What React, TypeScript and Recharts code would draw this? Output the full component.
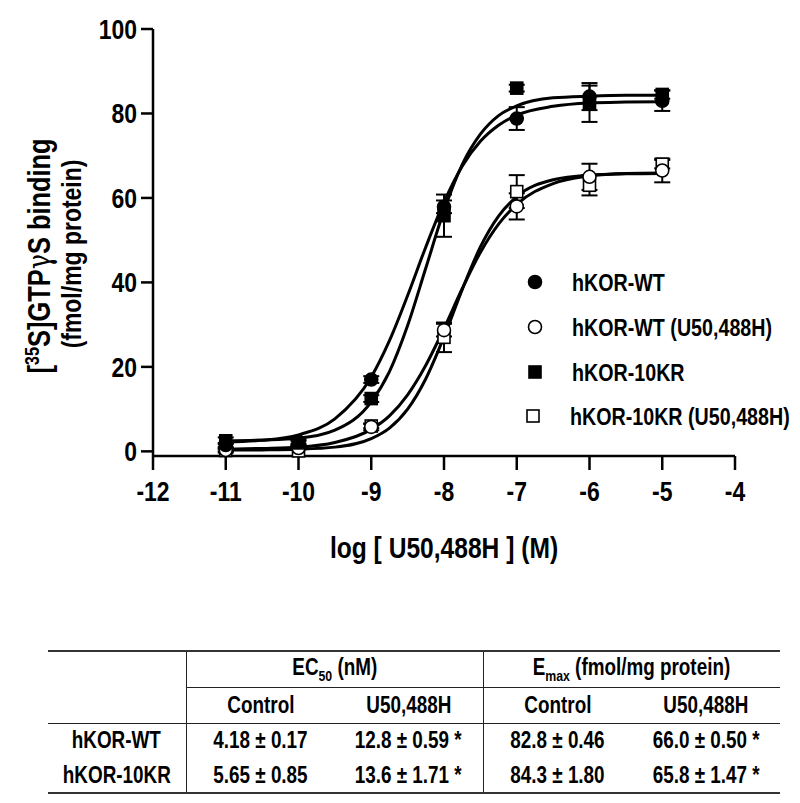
import React from "react";
import { ComposedChart, Line, Scatter, XAxis, YAxis, ErrorBar } from "recharts";

// Arial Narrow look: Liberation Sans bold squeezed horizontally
const FONT = "'Liberation Sans', Arial, sans-serif";
const NARROW = 0.82;

// log [U50,488H] (M)
const doses = [-11, -10, -9, -8, -7, -6, -5];

// mean and SEM per dose, fmol/mg protein
const wtMean = [1.5, 2.3, 17.0, 57.9, 78.8, 84.0, 83.0];
const wtSem = [0.5, 0.5, 0.8, 1.5, 2.7, 3.2, 2.4];
const wtU50Mean = [0.3, 0.8, 5.8, 28.7, 58.0, 65.0, 66.5];
const wtU50Sem = [0.3, 0.3, 0.8, 1.5, 3.1, 3.1, 2.8];
const krMean = [2.5, 2.0, 12.5, 55.8, 86.0, 82.3, 84.5];
const krSem = [0.8, 0.5, 0.8, 5.0, 0.8, 4.3, 1.0];
const krU50Mean = [0.2, 0.1, 6.0, 27.0, 61.5, 63.0, 68.0];
const krU50Sem = [0.5, 1.2, 0.5, 3.5, 3.9, 2.4, 1.0];

// fitted curves
const fitX = [-11, -10.5, -10, -9.5, -9, -8.75, -8.5, -8.25, -8, -7.75, -7.5, -7.25, -7, -6.5, -6, -5.5, -5];
const wtFit = [2.2, 2.6, 3.9, 7.7, 17.6, 26.2, 36.9, 48.4, 59.0, 67.5, 73.4, 77.2, 79.6, 81.7, 82.5, 82.7, 82.8];
const krFit = [2.5, 2.7, 3.1, 5.0, 11.7, 18.9, 29.8, 43.4, 57.0, 67.9, 75.1, 79.5, 81.8, 83.7, 84.1, 84.3, 84.3];
const wtU50Fit = [0.5, 0.7, 1.0, 2.1, 5.2, 8.4, 13.4, 20.4, 29.1, 38.5, 47.1, 53.8, 58.5, 63.4, 65.2, 65.8, 65.9];
const krU50Fit = [0.3, 0.35, 0.5, 1.0, 3.0, 5.5, 10.0, 17.2, 27.1, 38.3, 48.4, 55.7, 60.3, 64.3, 65.4, 65.7, 65.8];

const xTicks = [-12, -11, -10, -9, -8, -7, -6, -5, -4];
const yTicks = [0, 20, 40, 60, 80, 100];

const legendNames = ["hKOR-WT", "hKOR-WT (U50,488H)", "hKOR-10KR", "hKOR-10KR (U50,488H)"];

// table
const tableRows = ["hKOR-WT", "hKOR-10KR"];
const ec50Control = ["4.18 ± 0.17", "5.65 ± 0.85"];
const ec50U50 = ["12.8 ± 0.59 *", "13.6 ± 1.71 *"];
const emaxControl = ["82.8 ± 0.46", "84.3 ± 1.80"];
const emaxU50 = ["66.0 ± 0.50 *", "65.8 ± 1.47 *"];

const pts = (means: number[], sems: number[]) =>
  doses.map((x, i) => ({ x, y: means[i], err: sems[i] }));
const fit = (ys: number[]) => fitX.map((x, i) => ({ x, y: ys[i] }));

const circle = (fill: string) => (p: any) =>
  <circle cx={p.cx} cy={p.cy} r={6.5} fill={fill} stroke="#000" strokeWidth={1.6} />;
const square = (fill: string) => (p: any) =>
  <rect x={p.cx - 6} y={p.cy - 6} width={12} height={12} fill={fill} stroke="#000" strokeWidth={1.6} />;

const lineStyle = { stroke: "#000", strokeWidth: 2.5 };

// squeezed svg text
const NText = ({ x, y, rotate = 0, size, anchor = "start", dy, children }: any) => (
  <g transform={`translate(${x},${y}) rotate(${rotate}) scale(${NARROW},1)`}>
    <text textAnchor={anchor} dy={dy} fontSize={size} fontFamily={FONT} fontWeight={700} fill="#000">
      {children}
    </text>
  </g>
);

const XTick = (p: any) => (
  <NText x={p.x} y={p.y} size={28} anchor="middle" dy="0.71em">{p.payload.value}</NText>
);
const YTick = (p: any) => (
  <NText x={p.x} y={p.y} size={28} anchor="end" dy="0.355em">{p.payload.value}</NText>
);

const Narrow = ({ children }: any) => (
  <span style={{ display: "inline-block", transform: `scaleX(${NARROW})`, transformOrigin: "center", whiteSpace: "nowrap" }}>
    {children}
  </span>
);

const cell: React.CSSProperties = { padding: 0, textAlign: "center", verticalAlign: "middle", whiteSpace: "nowrap" };
const vline = "1.5px solid #222";

export default function App() {
  const series = [
    { data: pts(krU50Mean, krU50Sem), shape: square("#fff") },
    { data: pts(wtU50Mean, wtU50Sem), shape: circle("#fff") },
    { data: pts(wtMean, wtSem), shape: circle("#000") },
    { data: pts(krMean, krSem), shape: square("#000") },
  ];
  const markers = [circle("#000"), circle("#fff"), square("#000"), square("#fff")];
  const legendY = [282, 327, 372, 416];

  return (
    <div style={{ position: "relative", width: 800, height: 803, fontFamily: FONT, background: "#fff" }}>
      <style>{"body{margin:0}"}</style>
      <ComposedChart width={800} height={600} margin={{ top: 29, right: 65, bottom: 84, left: 93 }}>
        <XAxis
          type="number"
          dataKey="x"
          domain={[-12, -4]}
          ticks={xTicks}
          allowDataOverflow
          height={60}
          tickSize={14}
          tickMargin={11}
          axisLine={lineStyle}
          tickLine={lineStyle}
          tick={XTick}
        />
        <YAxis
          type="number"
          domain={[0, 100]}
          ticks={yTicks}
          width={60}
          tickSize={12}
          tickMargin={4}
          axisLine={lineStyle}
          tickLine={lineStyle}
          tick={YTick}
        />
        {[wtFit, krFit, wtU50Fit, krU50Fit].map((ys, i) => (
          <Line
            key={"fit" + i}
            data={fit(ys)}
            dataKey="y"
            type="monotone"
            stroke="#000"
            strokeWidth={3}
            dot={false}
            activeDot={false}
            isAnimationActive={false}
          />
        ))}
        {series.map((s, i) => (
          <Scatter key={"pts" + i} data={s.data} dataKey="y" shape={s.shape} isAnimationActive={false}>
            <ErrorBar dataKey="err" direction="y" width={8} stroke="#000" strokeWidth={2} isAnimationActive={false} />
          </Scatter>
        ))}
      </ComposedChart>

      <svg width={800} height={600} style={{ position: "absolute", left: 0, top: 0, pointerEvents: "none" }}>
        <NText x={50} y={256} rotate={-90} size={31} anchor="middle">
          [<tspan fontSize={20} baselineShift="super">35</tspan>S]GTP
          <tspan fontFamily="'DejaVu Serif', serif" fontWeight={400}>γ</tspan>S binding
        </NText>
        <NText x={81} y={254} rotate={-90} size={28} anchor="middle">
          (fmol/mg protein)
        </NText>
        <NText x={444} y={558} size={30} anchor="middle">
          log [ U50,488H ] (M)
        </NText>
        {legendNames.map((name, i) => {
          const y = legendY[i];
          const M = markers[i];
          return (
            <g key={name}>
              <M cx={i === 3 ? 533 : 535} cy={y} />
              <NText x={i === 3 ? 570 : 572} y={y + 8.5} size={24}>{name}</NText>
            </g>
          );
        })}
      </svg>

      <table
        style={{
          position: "absolute",
          left: 48,
          top: 650,
          width: 732,
          borderCollapse: "collapse",
          borderTop: "2px solid #333",
          borderBottom: "2px solid #333",
          fontSize: 23,
          fontWeight: 700,
          color: "#000",
          tableLayout: "fixed",
        }}
      >
        <colgroup>
          <col style={{ width: 138 }} />
          <col style={{ width: 148.5 }} />
          <col style={{ width: 148.5 }} />
          <col style={{ width: 148.5 }} />
          <col style={{ width: 148.5 }} />
        </colgroup>
        <tbody>
          <tr style={{ height: 36 }}>
            <td rowSpan={2} style={{ ...cell, borderRight: vline, borderBottom: vline }} />
            <td colSpan={2} style={{ ...cell, borderRight: vline, borderBottom: vline }}>
              <Narrow>EC<sub style={{ fontSize: 15 }}>50</sub> (nM)</Narrow>
            </td>
            <td colSpan={2} style={{ ...cell, borderBottom: vline }}>
              <Narrow>E<sub style={{ fontSize: 15 }}>max</sub> (fmol/mg protein)</Narrow>
            </td>
          </tr>
          <tr style={{ height: 36 }}>
            <td style={{ ...cell, borderBottom: vline }}><Narrow>Control</Narrow></td>
            <td style={{ ...cell, borderRight: vline, borderBottom: vline }}><Narrow>U50,488H</Narrow></td>
            <td style={{ ...cell, borderBottom: vline }}><Narrow>Control</Narrow></td>
            <td style={{ ...cell, borderBottom: vline }}><Narrow>U50,488H</Narrow></td>
          </tr>
          {tableRows.map((r, i) => (
            <tr key={r} style={{ height: 35 }}>
              <td style={{ ...cell, borderRight: vline }}><Narrow>{r}</Narrow></td>
              <td style={cell}><Narrow>{ec50Control[i]}</Narrow></td>
              <td style={{ ...cell, borderRight: vline }}><Narrow>{ec50U50[i]}</Narrow></td>
              <td style={cell}><Narrow>{emaxControl[i]}</Narrow></td>
              <td style={cell}><Narrow>{emaxU50[i]}</Narrow></td>
            </tr>
          ))}
        </tbody>
      </table>
    </div>
  );
}
